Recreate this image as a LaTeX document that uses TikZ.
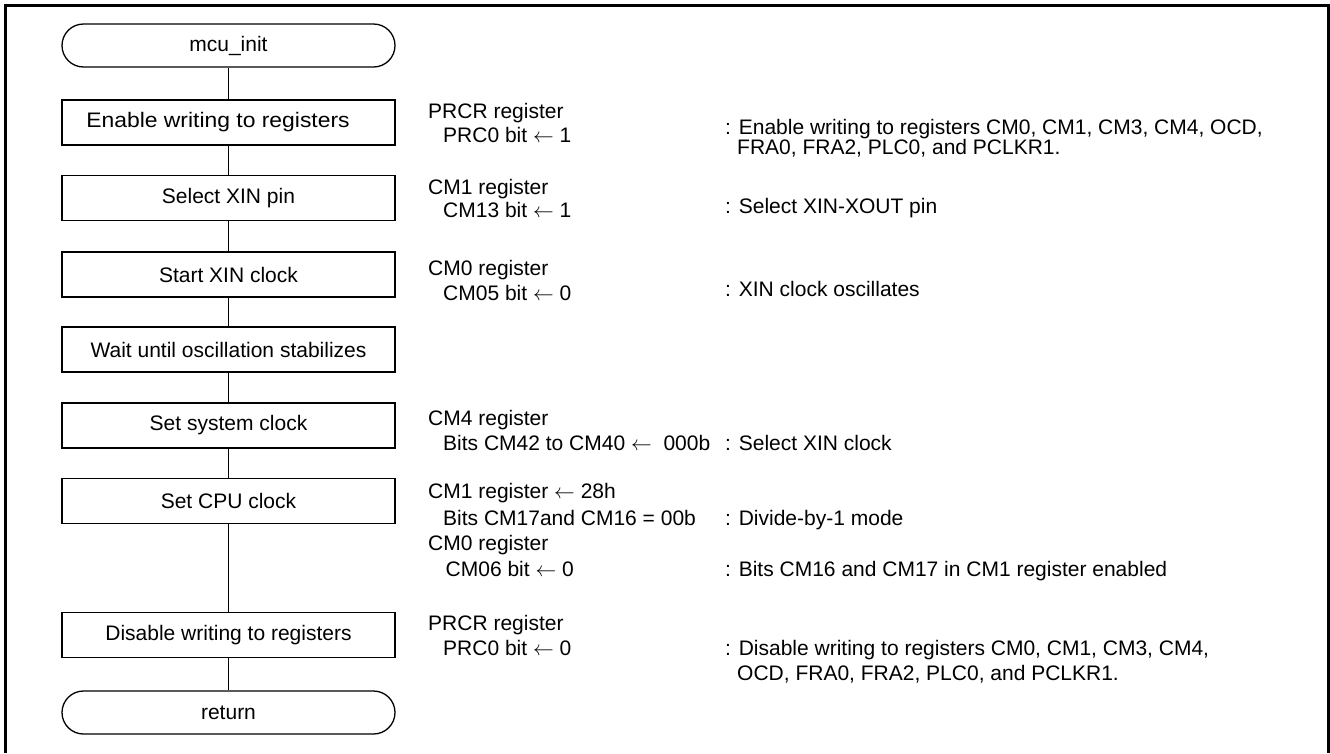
\documentclass[tikz,border=0pt]{standalone}
\usepackage{graphicx}
\usepackage{fontspec}
\setmainfont{Liberation Sans}
\newcommand{\txtfont}{\fontsize{21}{24}\selectfont}
\newcommand{\la}{$\leftarrow$}
\begin{document}
\begin{tikzpicture}[x=1pt,y=-1pt,
  flowbox/.style={draw, line width=1.3pt, minimum width=333pt, minimum height=45pt, inner sep=0pt, font=\txtfont},
  termbox/.style={flowbox, minimum height=43pt, rounded corners=21.5pt},
  lbl/.style={anchor=base west, inner sep=0pt, font=\txtfont, text height=15pt, text depth=4pt},
  conn/.style={line width=1.3pt}]
\useasboundingbox (0,0) rectangle (1330,753);
\draw[line width=3pt] (5.5,753) -- (5.5,5.5) -- (1328.5,5.5) -- (1328.5,753);

\node[termbox] (init) at (228.5,45.5) {mcu\_init};
\node[flowbox] (en) at (228.5,122.5) {\hspace*{-21pt}\scalebox{1.09}[1]{Enable writing to registers}};
\node[flowbox] (sel) at (228.5,198) {Select XIN pin};
\node[flowbox] (start) at (228.5,274.5) {Start XIN clock};
\node[flowbox] (wait) at (228.5,349.5) {Wait until oscillation stabilizes};
\node[flowbox] (sys) at (228.5,425.5) {Set system clock};
\node[flowbox] (cpu) at (228.5,501) {Set CPU clock};
\node[flowbox] (dis) at (228.5,635) {Disable writing to registers};
\node[termbox] (ret) at (228.5,712.5) {return};

\draw[conn] (init) -- (en);
\draw[conn] (en) -- (sel);
\draw[conn] (sel) -- (start);
\draw[conn] (start) -- (wait);
\draw[conn] (wait) -- (sys);
\draw[conn] (sys) -- (cpu);
\draw[conn] (cpu) -- (dis);
\draw[conn] (dis) -- (ret);

% Enable
\node[lbl] (a1) at (428,118.5) {PRCR register};
\node[lbl] (a2) at (443,142.5) {PRC0 bit \la{} 1};
\node[lbl] (a3) at (725,134) {: Enable writing to registers CM0, CM1, CM3, CM4, OCD,};
\node[lbl] (a4) at (737,154) {FRA0, FRA2, PLC0, and PCLKR1.};
% Select
\node[lbl] (b1) at (428,194) {CM1 register};
\node[lbl] (b2) at (443,217.5) {CM13 bit \la{} 1};
\node[lbl] (b3) at (725,213) {: Select XIN-XOUT pin};
% Start
\node[lbl] (c1) at (428,275) {CM0 register};
\node[lbl] (c2) at (443,300) {CM05 bit \la{} 0};
\node[lbl] (c3) at (725,296) {: XIN clock oscillates};
% system clock
\node[lbl] (d1) at (428,425) {CM4 register};
\node[lbl] (d2) at (443,450) {Bits CM42 to CM40 \la{}\ \ 000b};
\node[lbl] (d3) at (725,450) {: Select XIN clock};
% CPU clock
\node[lbl] (e1) at (428,498.5) {CM1 register \la{} 28h};
\node[lbl] (e2) at (443,525) {Bits CM17and CM16 = 00b};
\node[lbl] (e3) at (725,525) {: Divide-by-1 mode};
\node[lbl] (e4) at (428,550) {CM0 register};
\node[lbl] (e5) at (445.5,576.5) {CM06 bit \la{} 0};
\node[lbl] (e6) at (725,576.5) {: Bits CM16 and CM17 in CM1 register enabled};
% Disable
\node[lbl] (f1) at (428,630) {PRCR register};
\node[lbl] (f2) at (443,655) {PRC0 bit \la{} 0};
\node[lbl] (f3) at (725,655) {: Disable writing to registers CM0, CM1, CM3, CM4,};
\node[lbl] (f4) at (737,680) {OCD, FRA0, FRA2, PLC0, and PCLKR1.};
\end{tikzpicture}
\end{document}
